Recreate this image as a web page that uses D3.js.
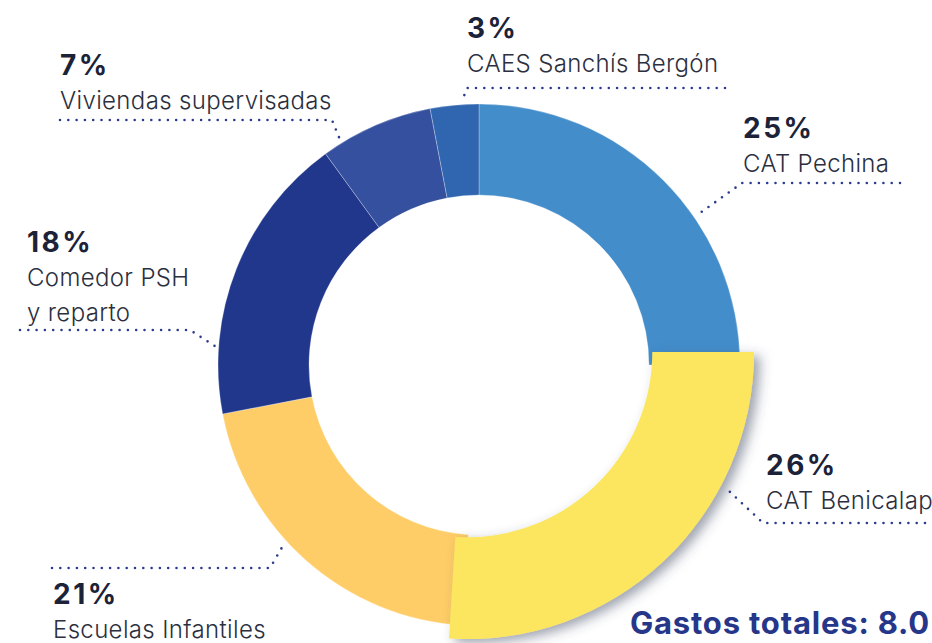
<!DOCTYPE html>
<html>
<head>
<meta charset="utf-8">
<script src="https://cdn.jsdelivr.net/npm/d3@7"></script>
<style>
  body { margin: 0; background: #fff; }
  svg { display: block; font-family: Inter, "Noto Sans", sans-serif; }
  .pct { font-weight: 700; fill: #1c2237; font-size: 28px; letter-spacing: 2.5px; }
  .name { font-weight: 300; fill: #2b2f40; font-size: 24px; letter-spacing: 0.35px; }
</style>
</head>
<body>
<div id="chart"></div>
<script>
// data
var names = ["CAT Pechina", "CAT Benicalap", "Escuelas Infantiles", "Comedor PSH|y reparto", "Viviendas supervisadas", "CAES Sanchís Bergón"];
var values = [25, 26, 21, 18, 7, 3];
var colors = ["#438dcb", "#fde65e", "#fecd67", "#21378b", "#34509e", "#3066b0"];
var totalLabel = "Gastos totales: 8.0";

var svgWidth = 932, svgHeight = 643;
var center = [479, 365];
var inner = 170, outer = 261;
var popIndex = 1;          // slice drawn pulled out
var popShift = [-12, -13];
var popScale = 1.1;

// label layout: text x, percent baseline, leader y, leader far end, elbow x, tip angle (deg)
var labelPos = [
  { x: 743, y: 138, lineY: 183, lineEnd: 900, elbow: 742, tip: 55.5 },
  { x: 766, y: 475, lineY: 523, lineEnd: 925, elbow: 763, tip: 117.6 },
  { x: 53, y: 604, lineY: 568, lineEnd: 52, elbow: 270, tip: 227.5 },
  { x: 27, y: 252, lineY: 330, lineEnd: 20, elbow: 190, tip: 274 },
  { x: 60, y: 75, lineY: 120, lineEnd: 60, elbow: 332, tip: 328.3 },
  { x: 467, y: 38, lineY: 88, lineEnd: 725, elbow: 467, tip: 356.3 }
];

var svg = d3.select("#chart").append("svg")
  .attr("width", svgWidth)
  .attr("height", svgHeight);

var defs = svg.append("defs");
var shadow = defs.append("filter").attr("id", "shadow")
  .attr("x", "-20%").attr("y", "-20%").attr("width", "150%").attr("height", "150%");
shadow.append("feDropShadow")
  .attr("dx", 6).attr("dy", 4).attr("stdDeviation", 6)
  .attr("flood-color", "#3a4560").attr("flood-opacity", 0.5);

var pie = d3.pie().sort(null).value(d => d)(values);

var arc = d3.arc().innerRadius(inner).outerRadius(outer);
var arcPop = d3.arc().innerRadius(inner * 1.09).outerRadius(outer * popScale);

var chartGroup = svg.append("g")
  .attr("transform", `translate(${center[0]}, ${center[1]})`);

chartGroup.selectAll("path.slice")
  .data(pie.filter((d, i) => i !== popIndex))
  .enter()
  .append("path")
  .attr("class", "slice")
  .attr("d", arc)
  .attr("fill", d => colors[d.index])
  .attr("stroke", "rgba(255,255,255,0.35)")
  .attr("stroke-width", 0.8);

// pulled out slice
chartGroup.append("path")
  .attr("transform", `translate(${popShift[0]}, ${popShift[1]})`)
  .attr("d", arcPop(pie[popIndex]))
  .attr("fill", colors[popIndex])
  .attr("filter", "url(#shadow)");

// leaders
var rad = Math.PI / 180;
labelPos.forEach(function(p, i) {
  var r = (i === popIndex ? outer * popScale : outer) + 3;
  var off = i === popIndex ? popShift : [0, 0];
  var tx = center[0] + off[0] + r * Math.sin(p.tip * rad);
  var ty = center[1] + off[1] - r * Math.cos(p.tip * rad);
  var pts = [[p.lineEnd, p.lineY], [p.elbow, p.lineY], [tx, ty]];
  svg.append("path")
    .attr("d", d3.line()(pts))
    .attr("fill", "none")
    .attr("stroke", "#2b3c8e")
    .attr("stroke-width", 2.6)
    .attr("stroke-linecap", "round")
    .attr("stroke-dasharray", "0 8.3");
});

// labels
labelPos.forEach(function(p, i) {
  var g = svg.append("g");
  g.append("text")
    .attr("class", "pct")
    .attr("x", p.x)
    .attr("y", p.y)
    .text(values[i] + "%");
  names[i].split("|").forEach(function(line, k) {
    g.append("text")
      .attr("class", "name")
      .attr("x", p.x)
      .attr("y", p.y + 34 + k * 35)
      .text(line);
  });
});

svg.append("text")
  .attr("x", 630)
  .attr("y", 634)
  .attr("font-weight", 700)
  .attr("font-size", 31)
  .attr("letter-spacing", 0.8)
  .attr("fill", "#26378a")
  .text(totalLabel);
</script>
</body>
</html>
